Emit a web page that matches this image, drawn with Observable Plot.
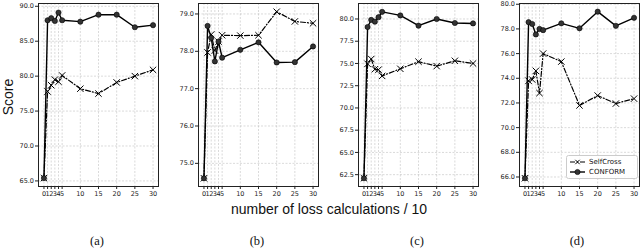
<!DOCTYPE html>
<html><head><meta charset="utf-8">
<script src="https://cdn.jsdelivr.net/npm/d3@7"></script>
<script src="https://cdn.jsdelivr.net/npm/@observablehq/plot@0.6"></script>
<style>
body{margin:0;background:#fff;}
#wrap{position:relative;width:640px;height:250px;overflow:hidden;background:#fff;}
.panel{position:absolute;top:0;}
.lab{position:absolute;font-family:"Liberation Sans",Arial,sans-serif;color:#111;white-space:nowrap;}
.cap{position:absolute;font-family:"Liberation Serif","Times New Roman",serif;font-size:12.5px;color:#111;transform:translate(-50%,-50%);}
#legend{position:absolute;left:566px;top:155px;}
</style></head><body><div id="wrap"></div>
<script>
// x: number of loss calculations / 10
const steps = [0, 1, 2, 3, 4, 5, 10, 15, 20, 25, 30];
const xTicks = [0, 1, 2, 3, 4, 5, 10, 15, 20, 25, 30];
const seriesNames = ["SelfCross", "CONFORM"];
const panelLabels = ["(a)", "(b)", "(c)", "(d)"];

const selfCrossA = [65.4, 77.8, 78.7, 79.5, 79.2, 80.1, 78.2, 77.5, 79.1, 80.0, 80.9];
const conformA   = [65.4, 88.0, 88.3, 87.9, 89.1, 88.0, 87.8, 88.8, 88.8, 87.0, 87.3];
const yTicksA = [65, 70, 75, 80, 85, 90];

const selfCrossB = [74.6, 77.97, 78.45, 78.02, 78.26, 78.43, 78.42, 78.43, 79.06, 78.8, 78.75];
const conformB   = [74.6, 78.68, 78.36, 77.73, 78.26, 77.83, 78.04, 78.24, 77.7, 77.71, 78.13];
const yTicksB = [75, 76, 77, 78, 79];

const selfCrossC = [62.1, 74.96, 75.5, 74.35, 74.3, 73.6, 74.4, 75.2, 74.7, 75.3, 75.0];
const conformC   = [62.1, 79.1, 79.9, 79.7, 80.2, 80.8, 80.4, 79.25, 80.0, 79.55, 79.5];
const yTicksC = [62.5, 65, 67.5, 70, 72.5, 75, 77.5, 80];

const selfCrossD = [65.9, 73.8, 73.9, 74.6, 72.8, 76.0, 75.35, 71.8, 72.6, 71.95, 72.35];
const conformD   = [65.9, 78.55, 78.4, 77.55, 78.0, 77.9, 78.45, 78.05, 79.4, 78.25, 78.9];
const yTicksD = [66, 68, 70, 72, 74, 76, 78, 80];

const panels = [
  {left: 0,   ml: 38, sc: selfCrossA, cf: conformA, domain: [64.2, 90.4],   ticks: yTicksA},
  {left: 160, ml: 38, sc: selfCrossB, cf: conformB, domain: [74.38, 79.28], ticks: yTicksB},
  {left: 320, ml: 38, sc: selfCrossC, cf: conformC, domain: [61.17, 81.74], ticks: yTicksC},
  {left: 480, ml: 39, sc: selfCrossD, cf: conformD, domain: [65.23, 80.06], ticks: yTicksD}
];

const wrap = document.getElementById("wrap");
const dashDot = "5,2,1,2";

panels.forEach((p) => {
  const rows = steps.map((s, i) => ({s, sc: p.sc[i], cf: p.cf[i]}));
  const chart = Plot.plot({
    width: 160, height: 200,
    marginLeft: p.ml, marginRight: 160 - p.ml - 120, marginTop: 3, marginBottom: 14,
    x: {domain: [-1.5, 31.5]},
    y: {domain: p.domain},
    style: {fontFamily: "DejaVu Sans", fontSize: "6.5px", color: "#222", background: "transparent", overflow: "visible"},
    marks: [
      Plot.gridX(xTicks, {stroke: "#b0b0b0", strokeOpacity: 0.8, strokeDasharray: "2,1.5", strokeWidth: 0.6}),
      Plot.gridY(p.ticks, {stroke: "#b0b0b0", strokeOpacity: 0.8, strokeDasharray: "2,1.5", strokeWidth: 0.6}),
      Plot.axisX(xTicks, {tickSize: 3, tickPadding: 1.5, label: null, tickFormat: d => String(d)}),
      Plot.axisY(p.ticks, {tickSize: 3, tickPadding: 1.5, label: null, tickFormat: d => d.toFixed(1)}),
      Plot.line(rows, {x: "s", y: "sc", stroke: "black", strokeWidth: 1.2, strokeDasharray: dashDot}),
      Plot.dot(rows, {x: "s", y: "sc", symbol: "times", r: 3, stroke: "black", strokeWidth: 1}),
      Plot.line(rows, {x: "s", y: "cf", stroke: "black", strokeWidth: 1.4}),
      Plot.dot(rows, {x: "s", y: "cf", r: 2.6, fill: "#333", stroke: "black", strokeWidth: 0.6}),
      Plot.frame({stroke: "#222", strokeWidth: 1})
    ]
  });
  const div = document.createElement("div");
  div.className = "panel";
  div.style.left = p.left + "px";
  div.appendChild(chart);
  wrap.appendChild(div);
});

// axis titles
const yl = document.createElement("div");
yl.className = "lab";
yl.textContent = "Score";
yl.style.fontSize = "14px";
yl.style.left = "8px"; yl.style.top = "97px";
yl.style.transform = "translate(-50%,-50%) rotate(-90deg)";
wrap.appendChild(yl);

const xl = document.createElement("div");
xl.className = "lab";
xl.textContent = "number of loss calculations / 10";
xl.style.fontSize = "14px";
xl.style.left = "329px"; xl.style.top = "209px";
xl.style.transform = "translate(-50%,-50%)";
wrap.appendChild(xl);

[97, 257, 417, 577].forEach((cx, i) => {
  const c = document.createElement("div");
  c.className = "cap";
  c.textContent = panelLabels[i];
  c.style.left = cx + "px"; c.style.top = "241px";
  wrap.appendChild(c);
});

// legend (panel d)
const ns = "http://www.w3.org/2000/svg";
const lg = d3.create("svg").attr("width", 72).attr("height", 24).attr("id", "legend")
  .style("position", "absolute").style("left", "566px").style("top", "155px");
lg.append("rect").attr("x", 0.5).attr("y", 0.5).attr("width", 71).attr("height", 23).attr("rx", 2)
  .attr("fill", "white").attr("fill-opacity", 0.85).attr("stroke", "#ccc");
const rowsY = [7, 17];
seriesNames.forEach((name, i) => {
  const y = rowsY[i];
  const g = lg.append("g");
  g.append("line").attr("x1", 4).attr("x2", 19).attr("y1", y).attr("y2", y)
    .attr("stroke", "black").attr("stroke-width", i === 0 ? 1.2 : 1.4)
    .attr("stroke-dasharray", i === 0 ? dashDot : null);
  if (i === 0) {
    g.append("path").attr("d", `M${11.5-2.2},${y-2.2}L${11.5+2.2},${y+2.2}M${11.5-2.2},${y+2.2}L${11.5+2.2},${y-2.2}`)
      .attr("stroke", "black").attr("stroke-width", 1);
  } else {
    g.append("circle").attr("cx", 11.5).attr("cy", y).attr("r", 2.6).attr("fill", "#333").attr("stroke", "black").attr("stroke-width", 0.6);
  }
  g.append("text").attr("x", 23).attr("y", y).attr("dy", "0.35em")
    .attr("font-family", "DejaVu Sans").attr("font-size", 7).attr("fill", "#111").text(name);
});
wrap.appendChild(lg.node());
</script>
</body></html>
